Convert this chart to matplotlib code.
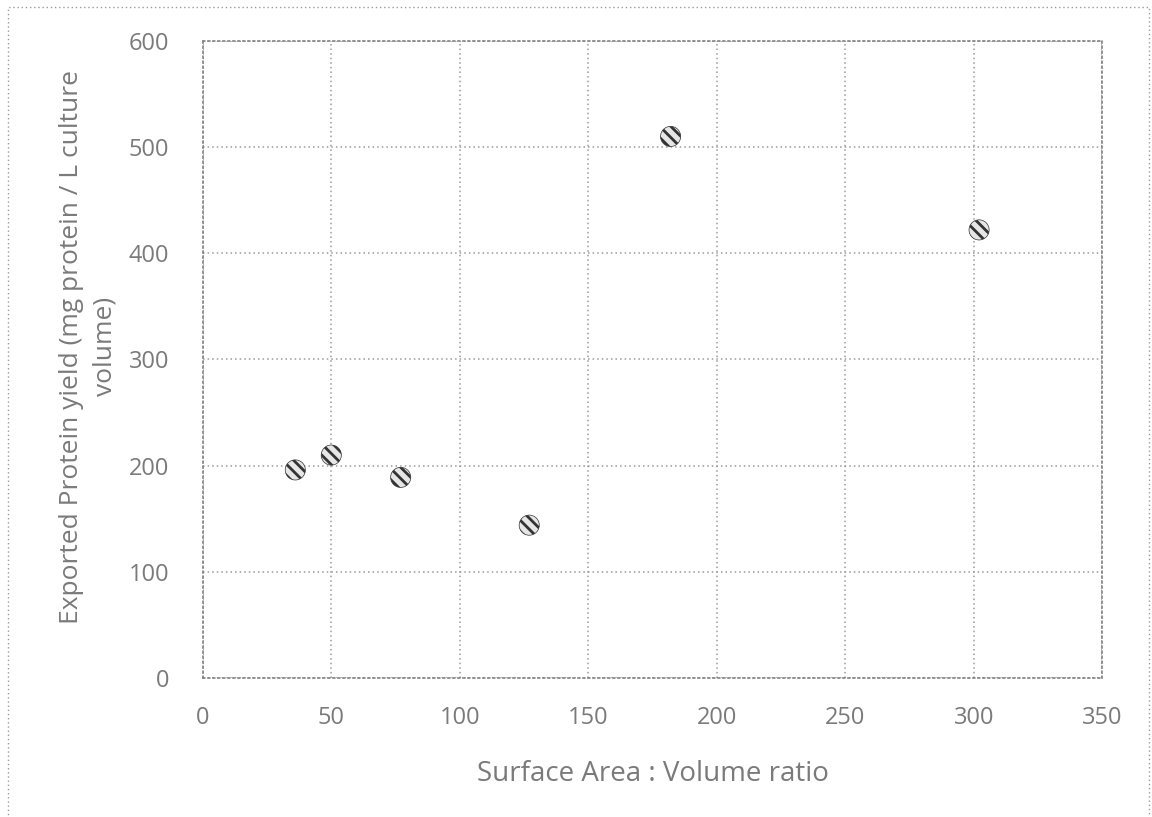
"""Scatter of exported protein yield against surface area : volume ratio."""

import matplotlib

matplotlib.use("Agg")
import matplotlib.pyplot as plt
from matplotlib.patches import Rectangle

# values
sa_vol_ratio = [36, 50, 77, 127, 182, 302]
protein_yield = [196, 210, 189, 144, 510, 422]

x_ticks = [0, 50, 100, 150, 200, 250, 300, 350]
y_ticks = [0, 100, 200, 300, 400, 500, 600]

TEXT_GREY = "#7a7a7a"
GRID_GREY = "#9a9a9a"

plt.rcParams["font.family"] = ["Open Sans", "DejaVu Sans"]
plt.rcParams["hatch.linewidth"] = 2.0

fig = plt.figure(figsize=(11.52, 8.17), dpi=100)
ax = fig.add_axes([0.176, 0.170, 0.781, 0.780])

ax.scatter(
    sa_vol_ratio,
    protein_yield,
    s=210,
    facecolor="#e6e6e6",
    edgecolor="#333333",
    hatch="\\\\\\",
    linewidth=0.5,
    zorder=3,
)

ax.set_xlim(0, 350)
ax.set_ylim(0, 600)
ax.set_xticks(x_ticks)
ax.set_yticks(y_ticks)
ax.grid(True, color=GRID_GREY, linestyle=(0, (1, 2)), linewidth=1.1)
for spine in ax.spines.values():
    spine.set_color("#808080")
    spine.set_linestyle((0, (1, 2)))
    spine.set_linewidth(1.2)
ax.tick_params(axis="x", length=0, pad=20, labelsize=17, colors=TEXT_GREY)
ax.tick_params(axis="y", length=0, pad=24, labelsize=17, colors=TEXT_GREY)

ax.set_xlabel("Surface Area : Volume ratio", fontsize=20, color=TEXT_GREY, labelpad=22)
ax.set_ylabel(
    "Exported Protein yield (mg protein / L culture\nvolume)",
    fontsize=19,
    color=TEXT_GREY,
    labelpad=8,
    linespacing=1.45,
    y=0.52,
)

# dotted frame around the whole chart area
fig.patches.append(
    Rectangle(
        (0.007, -0.05), 0.99, 1.042,
        transform=fig.transFigure,
        fill=False,
        edgecolor=GRID_GREY,
        linestyle=(0, (1, 2)),
        linewidth=1.0,
    )
)

fig.savefig("out.png", dpi=100)
